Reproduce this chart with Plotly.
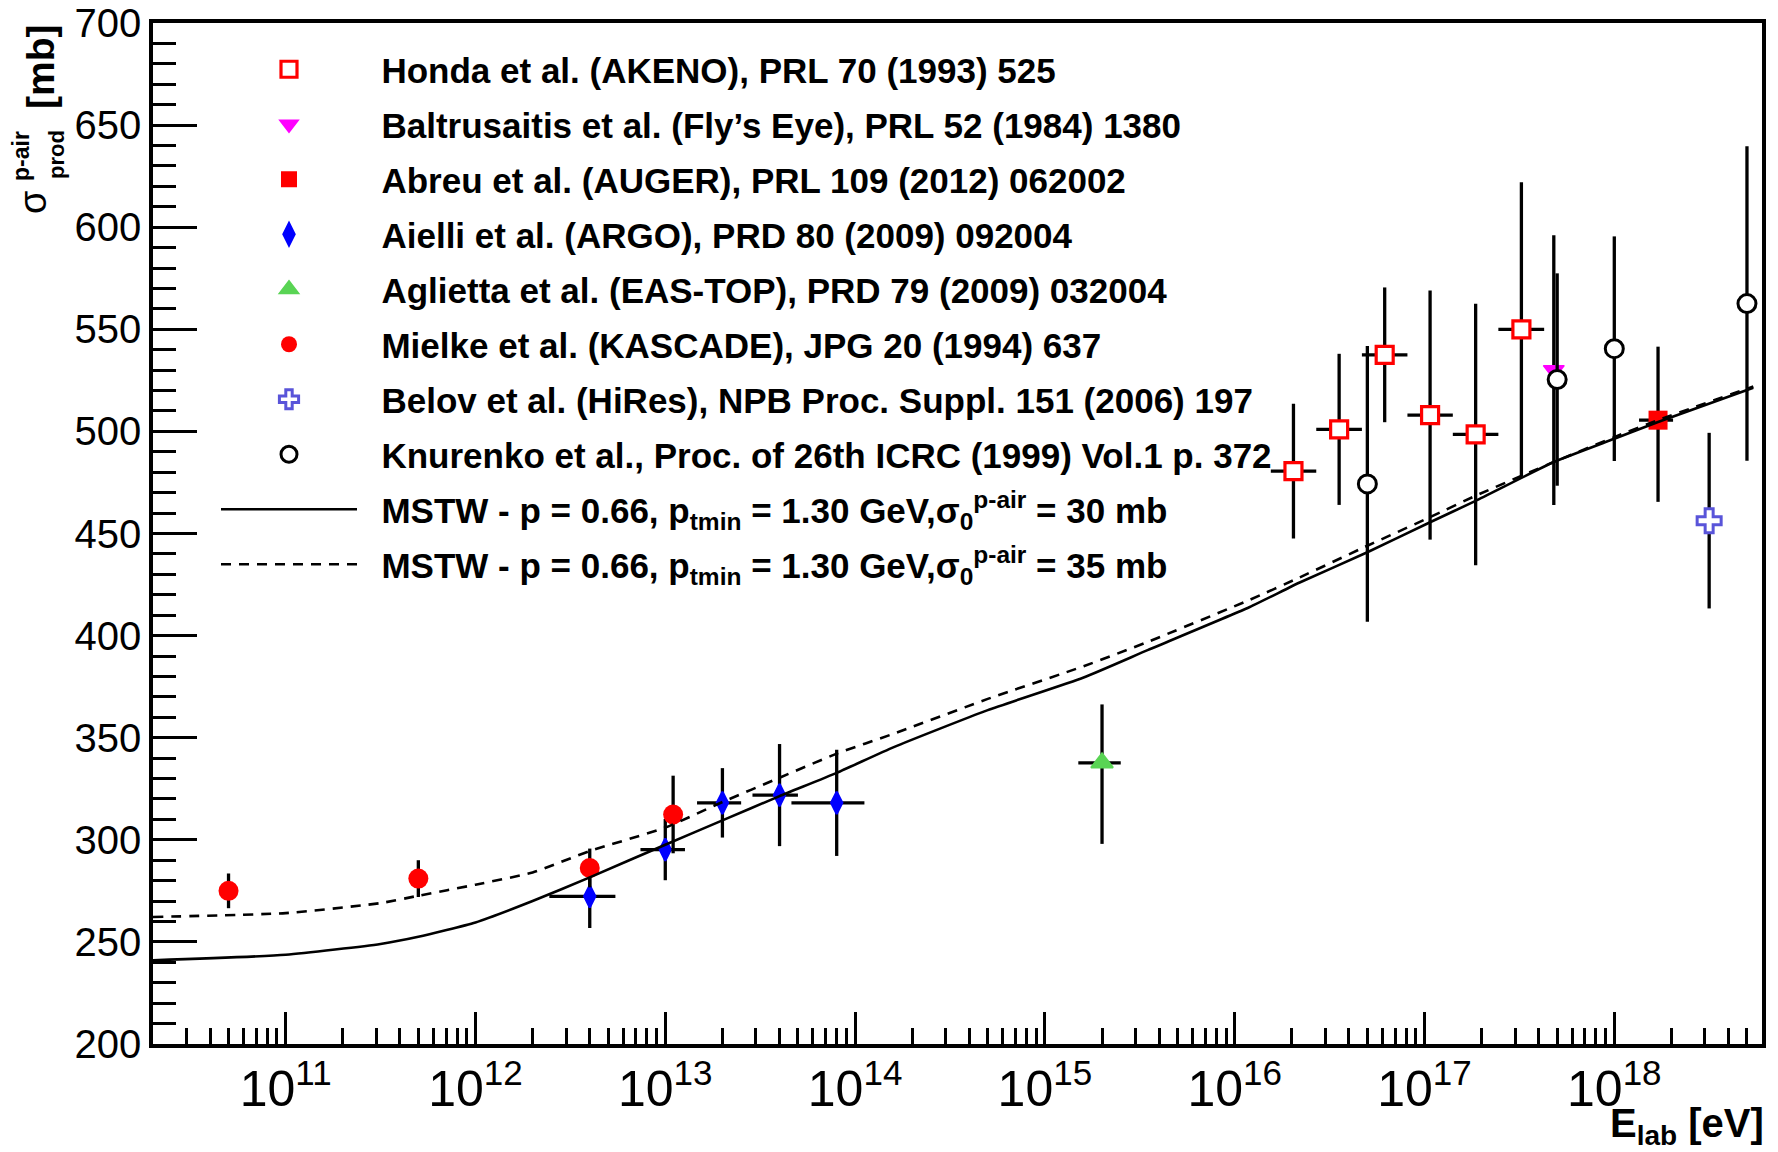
import math
import plotly.graph_objects as go

# ---------------- measurements (E in eV, sigma in mb) ----------------
honda_E = [2.04e16, 3.55e16, 6.17e16, 1.07e17, 1.86e17, 3.24e17]
honda_Elo = [1.55e16, 2.69e16, 4.68e16, 8.13e16, 1.41e17, 2.45e17]
honda_Ehi = [2.69e16, 4.68e16, 8.13e16, 1.41e17, 2.45e17, 4.27e17]
honda_sig = [480.5, 501.0, 537.5, 508.0, 498.5, 550.0]
honda_err = [33, 37, 33, 61, 64, 72]

flyseye_E = [4.8e17]
flyseye_sig = [530.0]
flyseye_err = [66]

auger_E = [1.7e18]
auger_Elo = [1.35e18]
auger_Ehi = [2.04e18]
auger_sig = [505.5]
auger_errp = [36]
auger_errm = [40]

argo_E = [4.0e12, 1.0e13, 2.0e13, 4.0e13, 8.0e13]
argo_Elo = [2.45e12, 7.4e12, 1.47e13, 2.88e13, 4.62e13]
argo_Ehi = [5.46e12, 1.27e13, 2.51e13, 5.0e13, 1.12e14]
argo_sig = [272.3, 295.2, 318.1, 321.9, 318.1]
argo_err = [15.5, 15, 17, 25, 26]

eastop_E = [2.0e15]
eastop_Elo = [1.5e15]
eastop_Ehi = [2.51e15]
eastop_sig = [337.7]
eastop_errp = [28.6]
eastop_errm = [39.7]

kascade_E = [5.0e10, 5.0e11, 4.0e12, 1.1e13]
kascade_sig = [275.0, 281.0, 286.2, 312.4]
kascade_err = [8.5, 9, 9.5, 19]

hires_E = [3.16e18]
hires_sig = [456.3]
hires_err = [43]

knurenko_E = [5.0e16, 5.0e17, 1.0e18, 5.0e18]
knurenko_sig = [474.3, 525.4, 540.5, 562.6]
knurenko_err = [67.5, 52, 55, 77]

# ---------------- MSTW model curves ----------------
model_E = [2e10, 1e11, 3.16e11, 5e11, 1e12, 2e12, 4e12, 1e13, 2e13, 4e13, 8e13,
           1.6e14, 5e14, 1.6e15, 3.5e15, 1.2e16, 2.2e16, 5e16, 1.07e17, 1.86e17,
           4.8e17, 1e18, 1.7e18, 5.4e18]
mstw_30mb = [241.0, 243.7, 249.0, 252.5, 259.5, 270.0, 281.6, 297.6, 309.5, 321.4, 332.8,
             345.4, 363.5, 379.5, 393.0, 414.0, 426.0, 440.8, 455.5, 466.0,
             485.0, 496.4, 504.6, 521.4]
mstw_35mb = [262.2, 264.1, 269.0, 272.6, 278.0, 284.0, 294.5, 306.0, 318.5, 330.4, 342.2,
             352.0, 369.0, 385.0, 397.0, 417.5, 428.5, 444.0, 458.0, 468.5,
             485.0, 497.2, 505.5, 522.0]

x_min, x_max = 2e10, 6e18
y_min, y_max = 200, 700

# ---------------- figure geometry (pixels) ----------------
W, H = 1778, 1152
L, R, T, B = 153, 1762, 23, 1044


def px(xp):
    return (xp - L) / (R - L)


def py(yp):
    return (B - yp) / (B - T)


FONT = "Liberation Sans"
ERR = dict(type="data", color="black", thickness=3.3, width=0)
PAD = "\u00a0\u00a0"  # gap between legend symbol and label


def err_y(plus, minus=None):
    d = dict(ERR)
    if minus is None:
        d.update(symmetric=True, array=plus)
    else:
        d.update(symmetric=False, array=plus, arrayminus=minus)
    return d


def err_x(E, lo, hi):
    d = dict(ERR)
    d.update(symmetric=False,
             array=[h - e for e, h in zip(E, hi)],
             arrayminus=[e - l for e, l in zip(E, lo)])
    return d


fig = go.Figure()


def add_points(name, E, sig, ey, marker, ex=None):
    fig.add_trace(go.Scatter(
        x=E, y=sig, mode="markers", name=PAD + name, legendgroup=name,
        marker=marker, error_y=ey, error_x=ex, cliponaxis=False))


add_points("Honda et al. (AKENO), PRL 70 (1993) 525", honda_E, honda_sig,
           err_y(honda_err),
           dict(symbol="square", size=17, color="white", line=dict(color="#ff0000", width=3.2)),
           err_x(honda_E, honda_Elo, honda_Ehi))
add_points("Baltrusaitis et al. (Fly’s Eye), PRL 52 (1984) 1380", flyseye_E, flyseye_sig,
           err_y(flyseye_err),
           dict(symbol="triangle-down", size=18, color="#ff00ff", line=dict(color="#ff00ff", width=1.5)))
add_points("Abreu et al. (AUGER), PRL 109 (2012) 062002", auger_E, auger_sig,
           err_y(auger_errp, auger_errm),
           dict(symbol="square", size=19, color="#ff0000", line=dict(width=0)),
           err_x(auger_E, auger_Elo, auger_Ehi))
add_points("Aielli et al. (ARGO), PRD 80 (2009) 092004", argo_E, argo_sig,
           err_y(argo_err),
           dict(symbol="diamond-tall", size=16, color="#0000ff", line=dict(color="#0000ff", width=2.2)),
           err_x(argo_E, argo_Elo, argo_Ehi))
add_points("Aglietta et al. (EAS-TOP), PRD 79 (2009) 032004", eastop_E, eastop_sig,
           err_y(eastop_errp, eastop_errm),
           dict(symbol="triangle-up", size=19, color="#59d454", line=dict(color="#59d454", width=2)),
           err_x(eastop_E, eastop_Elo, eastop_Ehi))
add_points("Mielke et al. (KASCADE), JPG 20 (1994) 637", kascade_E, kascade_sig,
           err_y(kascade_err),
           dict(symbol="circle", size=20, color="#ff0000", line=dict(width=0)))
add_points("Belov et al. (HiRes), NPB Proc. Suppl. 151 (2006) 197", hires_E, hires_sig,
           err_y(hires_err),
           dict(symbol="cross", size=20, color="white", line=dict(color="#5954d9", width=3)))
add_points("Knurenko et al., Proc. of 26th ICRC (1999) Vol.1 p. 372", knurenko_E, knurenko_sig,
           err_y(knurenko_err),
           dict(symbol="circle", size=18, color="white", line=dict(color="black", width=3)))

mstw_label = "MSTW - p = 0.66, p<sub>tmin</sub> = 1.30 GeV,σ<sub>0</sub><sup>p-air</sup> = {} mb"
fig.add_trace(go.Scatter(x=model_E, y=mstw_30mb, mode="lines", name=PAD + mstw_label.format(30),
                         legendgroup="m30",
                         line=dict(color="black", width=2.6, shape="spline", smoothing=0.5)))
fig.add_trace(go.Scatter(x=model_E, y=mstw_35mb, mode="lines", name=PAD + mstw_label.format(35),
                         legendgroup="m35",
                         line=dict(color="black", width=2.6, dash="10px,8px", shape="spline", smoothing=0.5)))

axis_common = dict(
    showline=True, linewidth=3.5, linecolor="black", mirror=True,
    showgrid=False, zeroline=False, ticks="inside", tickcolor="black",
    tickfont=dict(family=FONT, size=40, color="black"),
)

fig.update_xaxes(
    type="log", range=[math.log10(x_min), math.log10(x_max)],
    dtick=1, exponentformat="power", ticklen=32, tickwidth=3,
    minor=dict(ticks="inside", dtick="D1", ticklen=16, tickwidth=3, tickcolor="black", showgrid=False),
    **axis_common)
fig.update_yaxes(
    range=[y_min, y_max], dtick=50, ticklen=44, tickwidth=3.3,
    minor=dict(ticks="inside", dtick=10, ticklen=23, tickwidth=3.3, tickcolor="black", showgrid=False),
    **axis_common)

annotations = [
    # y-axis title, built from pieces so the sub/superscripts stack
    dict(text="<b>[mb]</b>", x=px(40), y=py(67), textangle=-90, font=dict(size=39)),
    dict(text="<b>p-air</b>", x=px(21), y=py(156), textangle=-90, font=dict(size=23)),
    dict(text="<b>prod</b>", x=px(57), y=py(155), textangle=-90, font=dict(size=22)),
    dict(text="σ", x=px(33), y=py(202), textangle=-90, font=dict(size=38)),
    # x-axis title
    dict(text="<b>E<sub>lab</sub> [eV]</b>", x=px(1766), y=py(1126), xanchor="right",
         yanchor="middle", font=dict(size=40)),
]
for a in annotations:
    a.setdefault("xanchor", "center")
    a.setdefault("yanchor", "middle")
    a["font"].update(family=FONT, color="black")
    fig.add_annotation(xref="paper", yref="paper", showarrow=False, **a)

fig.update_layout(
    width=W, height=H,
    margin=dict(l=L, r=W - R, t=T, b=H - B, autoexpand=False),
    paper_bgcolor="white", plot_bgcolor="white",
    legend=dict(x=px(216), y=py(40), xanchor="left", yanchor="top",
                bgcolor="rgba(0,0,0,0)", borderwidth=0,
                font=dict(family=FONT, size=35, color="black", weight="bold"),
                itemwidth=136, tracegroupgap=6.5, traceorder="grouped"),
    showlegend=True,
)

fig.write_html("out.html")
